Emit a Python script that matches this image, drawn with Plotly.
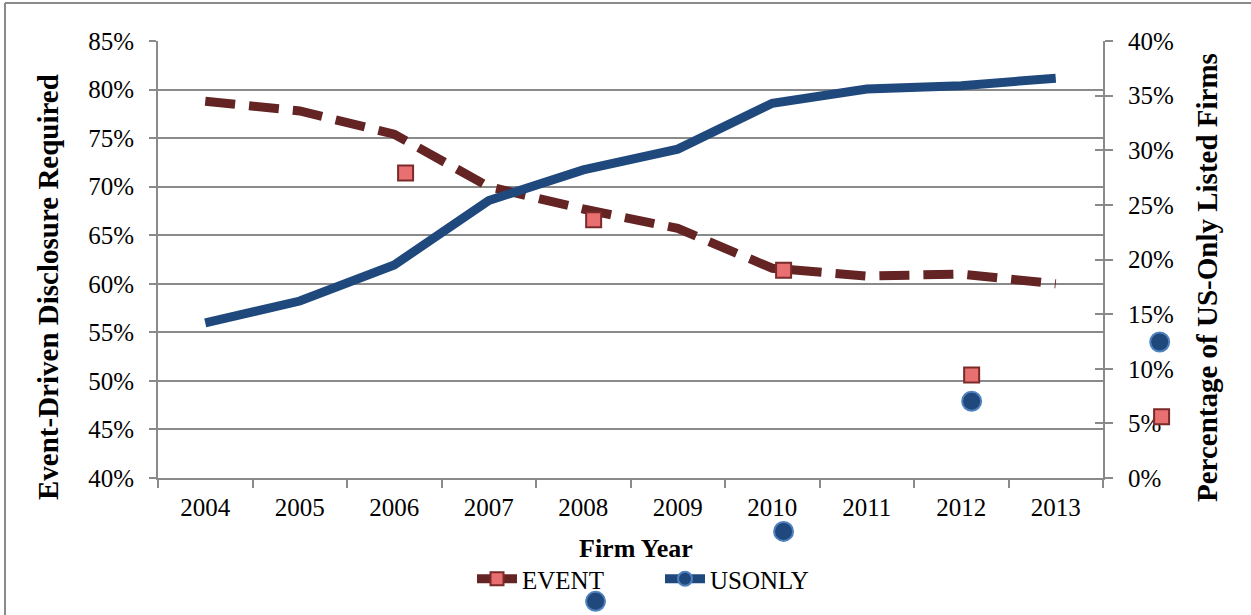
import plotly.graph_objects as go

# ---- data ----
years = ["2004", "2005", "2006", "2007", "2008", "2009", "2010", "2011", "2012", "2013"]
event = [78.8, 77.8, 75.4, 70.0, 67.7, 65.7, 61.6, 60.8, 61.0, 60.0]
usonly = [14.2, 16.2, 19.5, 25.4, 28.2, 30.1, 34.3, 35.6, 35.9, 36.6]

# stray marker artifacts visible in the source image (category index, left-axis %)
stray_sq_x = [2.12, 4.11, 6.12, 8.11, 10.12]
stray_sq_y = [71.4, 66.6, 61.4, 50.6, 46.3]
stray_ci_x = [10.10, 8.11, 6.12, 4.13]
stray_ci_y = [54.0, 47.9, 34.5, 27.3]

left_ticks = [40, 45, 50, 55, 60, 65, 70, 75, 80, 85]
left_labels = ["40%", "45%", "50%", "55%", "60%", "65%", "70%", "75%", "80%", "85%"]
right_ticks = [0, 5, 10, 15, 20, 25, 30, 35, 40]
right_labels = ["0%", "5%", "10%", "15%", "20%", "25%", "30%", "35%", "40%"]

# ---- style / geometry ----
FONT = "Liberation Serif"
EVENT_C = "#632423"
US_C = "#1f497d"
GRID = "#8a8a8a"
FS = 25
W, H = 1251, 615
PL, PR, PT, PB = 158, 1103, 41, 478   # plot area in pixels

def fx(px):
    return px / W

def fy(py):
    return (H - py) / H

cw = (PR - PL) / len(years)
def cat_at(px):
    return (px - PL - cw / 2) / cw

ymin, ymax = left_ticks[0], left_ticks[-1]
def left_at(py):
    return ymax - (py - PT) * (ymax - ymin) / (PB - PT)

fig = go.Figure()

fig.add_trace(go.Scatter(
    x=years, y=event, mode="lines", name="EVENT", showlegend=False,
    line=dict(color=EVENT_C, width=9, dash="30px,14px"), xaxis="x", yaxis="y"))
fig.add_trace(go.Scatter(
    x=years, y=usonly, mode="lines", name="USONLY", showlegend=False,
    line=dict(color=US_C, width=9), xaxis="x", yaxis="y2"))

# legend entries
fig.add_trace(go.Scatter(
    x=[None], y=[None], mode="lines+markers", name="EVENT",
    line=dict(color=EVENT_C, width=9),
    marker=dict(symbol="square", size=13, color="#e87070", line=dict(color="#7b2a2a", width=2)),
    xaxis="x", yaxis="y"))
fig.add_trace(go.Scatter(
    x=[None], y=[None], mode="lines+markers", name="USONLY",
    line=dict(color=US_C, width=9),
    marker=dict(symbol="circle", size=14, color=US_C, line=dict(color="#4f81bd", width=2)),
    xaxis="x", yaxis="y"))

# dummy trace to activate the inside tick marks of the right axis
fig.add_trace(go.Scatter(x=[None], y=[None], xaxis="x", yaxis="y3", showlegend=False))

# stray markers on a full-figure overlay subplot
fig.add_trace(go.Scatter(
    x=stray_sq_x, y=stray_sq_y, mode="markers", showlegend=False, cliponaxis=False,
    marker=dict(symbol="square", size=15, color="#e87070",
                line=dict(color="#7b2a2a", width=2)),
    xaxis="x4", yaxis="y4"))
fig.add_trace(go.Scatter(
    x=stray_ci_x, y=stray_ci_y, mode="markers", showlegend=False, cliponaxis=False,
    marker=dict(symbol="circle", size=19, color=US_C,
                line=dict(color="#4f81bd", width=2)),
    xaxis="x4", yaxis="y4"))

xdom = [fx(PL), fx(PR)]
ydom = [fy(PB), fy(PT)]
tickfont = dict(family=FONT, size=FS, color="black")

fig.update_layout(
    template="none",
    width=W, height=H, autosize=False,
    margin=dict(l=0, r=0, t=0, b=0, pad=0, autoexpand=False),
    paper_bgcolor="white", plot_bgcolor="rgba(0,0,0,0)",
    font=dict(family=FONT, size=FS, color="black"),
    showlegend=True,
    legend=dict(orientation="h", x=fx(660), y=fy(579), xanchor="center", yanchor="middle",
                font=dict(family=FONT, size=25, color="black"), bgcolor="rgba(0,0,0,0)",
                borderwidth=0, itemwidth=40, entrywidth=133, entrywidthmode="pixels"),
    xaxis=dict(domain=xdom, anchor="y", type="category", categoryorder="array",
               categoryarray=years, range=[-0.5, len(years) - 0.5], tickson="boundaries",
               ticks="outside", ticklen=8, tickcolor=GRID, tickwidth=2, showline=True,
               linecolor=GRID, linewidth=2, showgrid=False, zeroline=False, automargin=False,
               ticklabelstandoff=6, tickfont=tickfont),
    yaxis=dict(domain=ydom, anchor="x", range=[ymin, ymax], tickmode="array",
               tickvals=left_ticks, ticktext=left_labels, ticks="outside",
               ticklen=7, tickcolor=GRID, tickwidth=2, showline=True, linecolor=GRID,
               linewidth=2, showgrid=True, gridcolor=GRID, gridwidth=2, zeroline=False,
               automargin=False, ticklabelstandoff=10, tickfont=tickfont),
    yaxis2=dict(domain=ydom, range=[right_ticks[0], right_ticks[-1]], tickmode="array",
                tickvals=right_ticks, ticktext=right_labels, overlaying="y",
                side="right", anchor="x", ticks="outside", ticklen=8, tickcolor=GRID,
                tickwidth=2, showline=True, linecolor=GRID, linewidth=2, showgrid=False,
                zeroline=False, automargin=False, ticklabelstandoff=10, tickfont=tickfont),
    yaxis3=dict(domain=ydom, range=[right_ticks[0], right_ticks[-1]], tickmode="array",
                tickvals=right_ticks, overlaying="y", side="right",
                anchor="x", ticks="inside", ticklen=8, tickcolor=GRID, tickwidth=2,
                showticklabels=False, showgrid=False, zeroline=False, showline=False,
                automargin=False),
    xaxis4=dict(domain=[0, 1], anchor="y4", range=[cat_at(0), cat_at(W)], visible=False,
                showgrid=False, zeroline=False, automargin=False),
    yaxis4=dict(domain=[0, 1], anchor="x4", range=[left_at(H), left_at(0)], visible=False,
                showgrid=False, zeroline=False, automargin=False),
)

# axis titles
fig.add_annotation(text="<b>Firm Year</b>", xref="paper", yref="paper",
                   x=fx(636), y=fy(548), xanchor="center", yanchor="middle",
                   showarrow=False, font=dict(family=FONT, size=26, color="black"))
fig.add_annotation(text="<b>Event-Driven Disclosure Required</b>", xref="paper", yref="paper",
                   x=fx(48), y=fy(287), xanchor="center", yanchor="middle", textangle=-90,
                   showarrow=False, font=dict(family=FONT, size=29, color="black"))
fig.add_annotation(text="<b>Percentage of US-Only Listed Firms</b>", xref="paper", yref="paper",
                   x=fx(1207), y=fy(278), xanchor="center", yanchor="middle", textangle=-90,
                   showarrow=False, font=dict(family=FONT, size=29, color="black"))

# frame of the chart area (top and left edges)
fig.add_shape(type="line", xref="paper", yref="paper", x0=fx(5), x1=fx(W),
              y0=fy(3), y1=fy(3), line=dict(color=GRID, width=2))
fig.add_shape(type="line", xref="paper", yref="paper", x0=fx(5), x1=fx(5),
              y0=fy(3), y1=fy(H), line=dict(color=GRID, width=2))

fig.write_html("out.html", config={"displayModeBar": False},
               post_script="document.body.style.margin='0';document.body.style.overflow='hidden';")
